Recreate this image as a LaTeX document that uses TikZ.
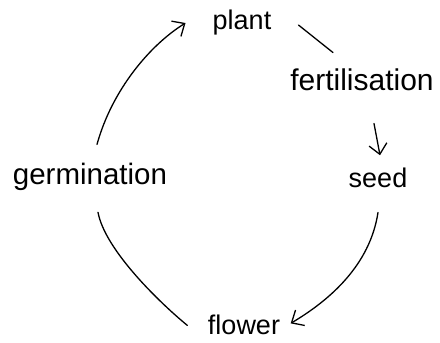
\documentclass[tikz,border=0pt]{standalone}
\usepackage{fontspec}
\setmainfont{Liberation Sans}
\usetikzlibrary{arrows.meta}
\begin{document}
\begin{tikzpicture}[x=1pt,y=1pt,
  lbl/.style={inner sep=0pt, anchor=base, font=\fontsize{#1}{#1}\selectfont},
  lbl/.default=28,
  conn/.style={line width=1.3pt, line cap=round, line join=round},
  arr/.style={conn, -{Straight Barb[length=10pt,width=18pt]}}]
\useasboundingbox (0,0) rectangle (440,343);
\node[lbl=29.5] (germ) at (90,158) {germination};
\node[lbl=27] (plant) at (242,313) {plant};
\node[lbl=30] (fert) at (362,252) {fertilisation};
\node[lbl=27] (seed) at (378,155) {seed};
\node[lbl=27] (flower) at (244,8) {flower};
\draw[arr] ([shift={(7pt,19pt)}]germ.north) .. controls (112,253) and (150,298) .. ([shift={(-27pt,0pt)}]plant.west);
\draw[conn] ([shift={(27pt,-2pt)}]plant.east) -- ([shift={(-29pt,16.5pt)}]fert.north);
\draw[arr] ([shift={(12pt,-32pt)}]fert.south) -- ([shift={(2pt,13pt)}]seed.north);
\draw[arr] ([shift={(0pt,-24pt)}]seed.south) .. controls (370,78) and (330,43) .. ([shift={(10.5pt,2pt)}]flower.east);
\draw[conn] ([shift={(8pt,-21pt)}]germ.south) .. controls (105,93) and (160,40) .. ([shift={(-20.5pt,0pt)}]flower.west);
\end{tikzpicture}
\end{document}
